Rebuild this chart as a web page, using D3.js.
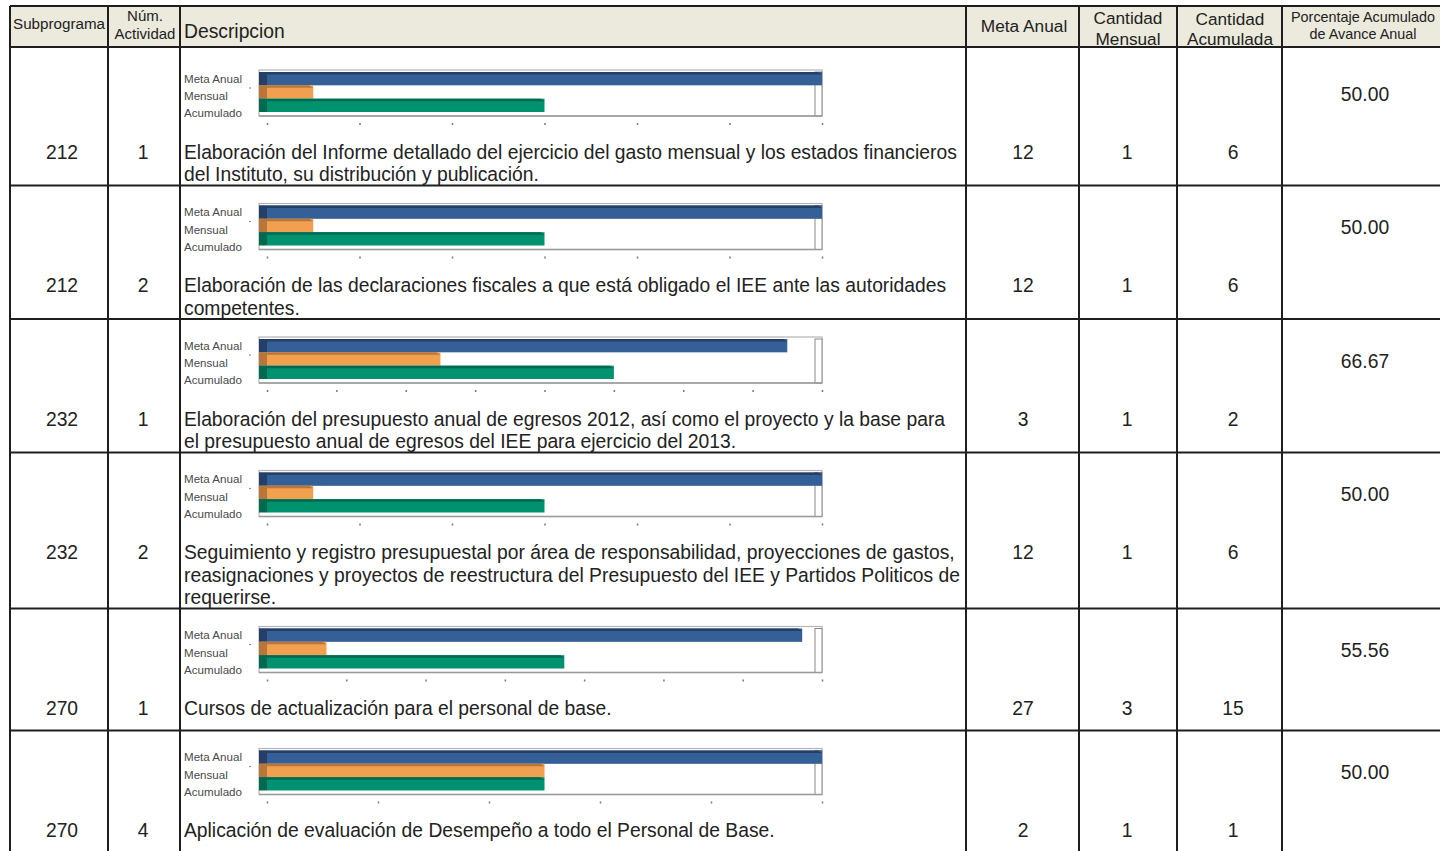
<!DOCTYPE html>
<html>
<head>
<meta charset="utf-8">
<script src="https://cdn.jsdelivr.net/npm/d3@7"></script>
<style>
  body { margin: 0; background: #fff; }
  svg { display: block; font-family: "Liberation Sans", Arial, sans-serif; }
</style>
</head>
<body>
<svg id="tabla" width="1440" height="851"></svg>
<script>
// Datos de la tabla
const subprogramas = ["212", "212", "232", "232", "270", "270"];
const actividades = ["1", "2", "1", "2", "1", "4"];
const descripciones = [
  ["Elaboración del Informe detallado del ejercicio del gasto mensual y los estados financieros",
   "del Instituto, su distribución y publicación."],
  ["Elaboración de las declaraciones fiscales a que está obligado el IEE ante las autoridades",
   "competentes."],
  ["Elaboración del presupuesto anual de egresos 2012, así como el proyecto y la base para",
   "el presupuesto anual de egresos del IEE para ejercicio del 2013."],
  ["Seguimiento y registro presupuestal por área de responsabilidad, proyecciones de gastos,",
   "reasignaciones y proyectos de reestructura del Presupuesto del IEE y Partidos Politicos de",
   "requerirse."],
  ["Cursos de actualización para el personal de base."],
  ["Aplicación de evaluación de Desempeño a todo el Personal de Base."]
];
const metaAnual = [12, 12, 3, 12, 27, 2];
const cantidadMensual = [1, 1, 1, 1, 3, 1];
const cantidadAcumulada = [6, 6, 2, 6, 15, 1];
const porcentaje = ["50.00", "50.00", "66.67", "50.00", "55.56", "50.00"];

// Ejes de cada grafica (maximo y paso de las marcas)
const ejeMax = [12, 12, 3.2, 12, 28, 2];
const ejePaso = [2, 2, 0.4, 2, 4, 0.4];

const series = ["Meta Anual", "Mensual", "Acumulado"];
const coloresSerie = ["#355f97", "#f0a04f", "#00926f"];
const coloresLado = ["#263f68", "#b9763a", "#006a50"];

// Columnas: borde izquierdo de cada columna
const colX = [10, 108, 180, 966, 1079, 1177, 1282, 1440];

const svg = d3.select("#tabla");
const ink = "#1e1e1e";
const bodySize = 19.3;

/** Encabezado */
const headTop = 6, headBottom = 47;
svg.append("rect")
  .attr("x", colX[0]).attr("y", headTop)
  .attr("width", 1440 - colX[0]).attr("height", headBottom - headTop)
  .attr("fill", "#ebeadc");

const encabezados = [
  {lines: ["Subprograma"], size: 15.2, x: 13, anchor: "start", ys: [24]},
  {lines: ["Núm.", "Actividad"], size: 15, x: 145, anchor: "middle", ys: [16, 34]},
  {lines: ["Descripcion"], size: 19.3, x: 184, anchor: "start", ys: [31]},
  {lines: ["Meta Anual"], size: 17.3, x: 1024, anchor: "middle", ys: [26]},
  {lines: ["Cantidad", "Mensual"], size: 17.2, x: 1128, anchor: "middle", ys: [18, 39]},
  {lines: ["Cantidad", "Acumulada"], size: 17.2, x: 1230, anchor: "middle", ys: [19, 39]},
  {lines: ["Porcentaje Acumulado", "de Avance Anual"], size: 14.4, x: 1363, anchor: "middle", ys: [17, 34]}
];

encabezados.forEach(function(h) {
  h.lines.forEach(function(t, i) {
    svg.append("text")
      .attr("x", h.x).attr("y", h.ys[i])
      .attr("dy", "0.35em")
      .attr("text-anchor", h.anchor)
      .attr("font-size", h.size)
      .attr("fill", "#222")
      .text(t);
  });
});

/** Filas */
var filaTops = [];
var y = headBottom;
descripciones.forEach(function(lines, i) {
  var extra = (i === 0) ? 5 : 0;
  var h = Math.max(122, 100 + 22.5 * (lines.length - 1) + 11) + extra;
  filaTops.push({top: y, content: y + extra, height: h});
  y += h;
});

var lineH = 22.5;

filaTops.forEach(function(f, i) {
  var base = f.content;
  var textY = base + 100;

  // Columnas de texto
  var celdas = [
    {x: 62, v: subprogramas[i]},
    {x: 143, v: actividades[i]},
    {x: 1023, v: metaAnual[i]},
    {x: 1127, v: cantidadMensual[i]},
    {x: 1233, v: cantidadAcumulada[i]}
  ];
  celdas.forEach(function(c) {
    svg.append("text")
      .attr("x", c.x).attr("y", textY).attr("dy", "0.35em")
      .attr("text-anchor", "middle")
      .attr("font-size", bodySize).attr("fill", "#222")
      .text(c.v);
  });

  svg.append("text")
    .attr("x", 1365).attr("y", base + 42).attr("dy", "0.35em")
    .attr("text-anchor", "middle")
    .attr("font-size", bodySize).attr("fill", "#222")
    .text(porcentaje[i]);

  descripciones[i].forEach(function(t, j) {
    svg.append("text")
      .attr("x", 184).attr("y", textY + j * lineH).attr("dy", "0.35em")
      .attr("font-size", bodySize).attr("fill", "#222")
      .text(t);
  });

  drawChart(i, base + 18);
});

/** Grafica de barras 3D dentro de la celda de descripcion */
function drawChart(i, ct) {
  var g = svg.append("g");
  var valores = [metaAnual[i], cantidadMensual[i], cantidadAcumulada[i]];

  var x = d3.scaleLinear().domain([0, ejeMax[i]]).range([267, 822]);
  var yBar = d3.scaleBand().domain(series).range([ct + 2, ct + 42]);
  var yLab = d3.scaleBand().domain(series).range([ct, ct + 52]);
  var depth = 8;

  // Paredes del area de trazado
  g.append("rect")
    .attr("x", x(0) - depth).attr("y", ct)
    .attr("width", x.range()[1] - x(0) + depth).attr("height", 46)
    .attr("fill", "#fff").attr("stroke", "#b5b5b5").attr("stroke-width", 1.2);
  g.append("rect")
    .attr("x", x.range()[1] - 7).attr("y", ct + 2)
    .attr("width", 7).attr("height", 44)
    .attr("fill", "#fff").attr("stroke", "#8a8a8a").attr("stroke-width", 1);
  g.append("line")
    .attr("x1", x(0) - depth).attr("x2", x.range()[1])
    .attr("y1", ct + 46).attr("y2", ct + 46)
    .attr("stroke", "#9a9a9a").attr("stroke-width", 1.5);

  // Barras
  var bars = g.selectAll(".barra").data(valores).enter().append("g").attr("class", "barra");
  bars.append("rect")
    .attr("x", x(0) - depth)
    .attr("y", function(d, k) { return yBar(series[k]); })
    .attr("width", depth)
    .attr("height", yBar.bandwidth())
    .attr("fill", function(d, k) { return coloresLado[k]; });
  bars.append("rect")
    .attr("x", x(0))
    .attr("y", function(d, k) { return yBar(series[k]); })
    .attr("width", function(d) { return x(d) - x(0); })
    .attr("height", yBar.bandwidth())
    .attr("fill", function(d, k) { return coloresSerie[k]; });
  bars.append("path")
    .attr("d", function(d, k) {
      var y0 = yBar(series[k]);
      return "M" + (x(0) - depth) + "," + y0 + "L" + (x(d) - 4) + "," + y0 +
        "L" + x(d) + "," + (y0 + 2.5) + "L" + (x(0) - depth) + "," + (y0 + 2.5) + "Z";
    })
    .attr("fill", function(d, k) { return coloresLado[k]; });

  // Etiquetas de las series
  g.selectAll(".lab").data(series).enter().append("text")
    .attr("x", 184)
    .attr("y", function(d) { return yLab(d) + yLab.bandwidth() / 2; })
    .attr("dy", "0.35em")
    .attr("font-size", 11.6).attr("fill", "#4a4a4a")
    .text(function(d) { return d; });

  g.append("circle")
    .attr("cx", 250).attr("cy", ct + 18).attr("r", 0.8).attr("fill", "#666");

  // Marcas del eje de valores (sin etiquetas)
  var marcas = d3.range(0, ejeMax[i] + ejePaso[i] / 2, ejePaso[i]);
  var axis = g.append("g")
    .attr("transform", "translate(0," + (ct + 53) + ")")
    .call(d3.axisBottom(x).tickValues(marcas).tickSize(2).tickFormat(""));
  axis.select(".domain").remove();
  axis.selectAll(".tick line").attr("stroke", "#777").attr("stroke-width", 1.5);
}

/** Lineas de la tabla */
var bordes = svg.append("g").attr("stroke", ink).attr("stroke-width", 2);
bordes.append("line").attr("x1", colX[0]).attr("x2", 1440).attr("y1", headTop).attr("y2", headTop);
bordes.append("line").attr("x1", colX[0]).attr("x2", 1440).attr("y1", headBottom).attr("y2", headBottom);
filaTops.forEach(function(f, i) {
  if (i > 0) {
    bordes.append("line").attr("x1", colX[0]).attr("x2", 1440).attr("y1", f.top).attr("y2", f.top);
  }
});
colX.slice(0, 7).forEach(function(cx) {
  bordes.append("line").attr("x1", cx).attr("x2", cx).attr("y1", headTop).attr("y2", 851);
});
</script>
</body>
</html>
